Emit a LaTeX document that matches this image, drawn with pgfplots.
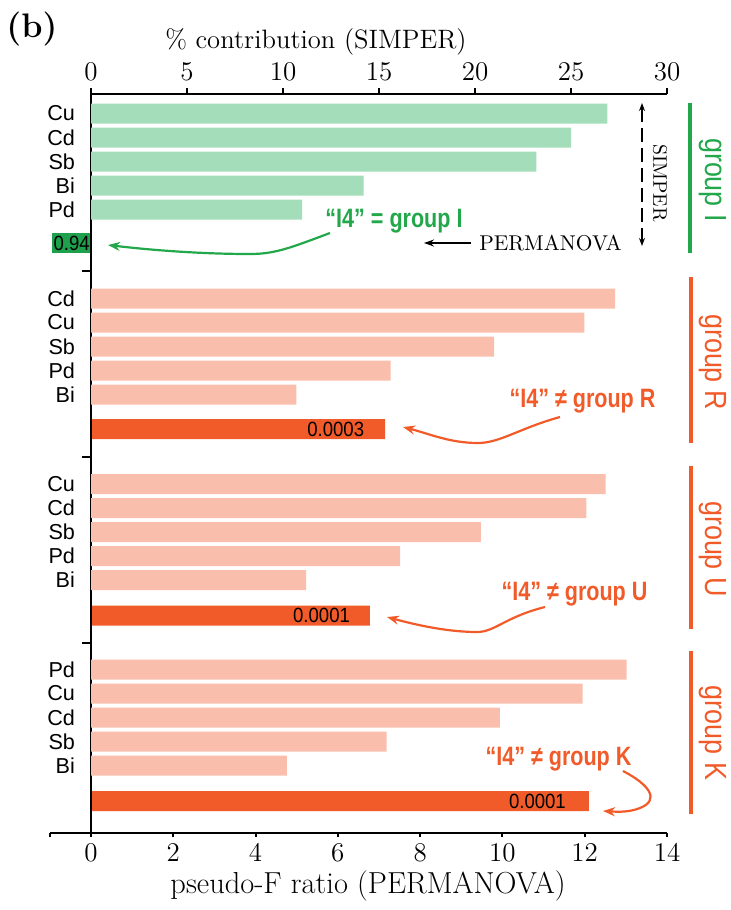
\documentclass[border=0pt]{standalone}
\usepackage{pgfplots}
\pgfplotsset{compat=1.18}
\usepackage{pgfplotstable}
\usepackage{fontspec}
\newfontfamily\arialf{Liberation Sans}
\newfontfamily\condf[FakeStretch=0.88]{Liberation Sans}
\newfontfamily\anf[FakeStretch=0.81]{Liberation Sans}
\newfontfamily\numf[FakeStretch=0.9]{Liberation Sans}
\usetikzlibrary{arrows.meta}
\definecolor{lgreen}{HTML}{A3DDBA}
\definecolor{dgreen}{HTML}{1EA04C}
\definecolor{tgreen}{HTML}{22A84A}
\definecolor{lsalmon}{HTML}{F9BEAC}
\definecolor{dorange}{HTML}{F15A29}

\pgfplotstableread{
pos val
113.5 26.9
137.5 25.0
161.5 23.2
185.5 14.2
209.5 11.0
}\simperI
\pgfplotstableread{
pos val
298.5 27.3
322.5 25.7
346.5 21.0
370.5 15.6
394.5 10.7
484 26.8
508 25.8
532 20.3
556 16.1
580 11.2
669.5 27.9
693.5 25.6
717.5 21.3
741.5 15.4
765.5 10.2
}\simperO
\pgfplotstableread{
pos val
243 -0.94
}\permI
\pgfplotstableread{
pos val
429 7.15
615.5 6.78
801 12.1
}\permO

\begin{document}
\begin{tikzpicture}
\path[use as bounding box] (0,0) rectangle (365.5pt,-455pt);
% bottom axis: pseudo-F
\begin{axis}[
  scale only axis, width=308.571pt, height=369.5pt,
  at={(24.9286pt,-416.5pt)}, anchor=south west,
  xmin=-1, xmax=14, ymin=94, ymax=833, y dir=reverse,
  axis x line*=bottom, axis y line=none,
  axis line style={-, line width=1pt},
  xtick={-1,0,2,4,6,8,10,12,14}, xticklabels={,0,2,4,6,8,10,12,14},
  ytick=\empty,
  tick align=outside, major tick length=2pt,
  tick style={line width=1pt, black},
  /pgf/number format/assume math mode=true,
  xticklabel style={font=\fontsize{13.5}{15}\selectfont, inner sep=2pt, yshift=-1pt},
  xlabel={pseudo-F ratio (PERMANOVA)},
  xlabel style={font=\fontsize{15.2}{18}\selectfont, inner sep=1pt, at={(axis description cs:0.5156,0)}, anchor=center, yshift=-26.5pt},
  clip=false,
]
\addplot[xbar, bar width=20, bar shift=0pt, fill=dgreen, draw=none] table[x=val,y=pos]{\permI};
\addplot[xbar, bar width=20, bar shift=0pt, fill=dorange, draw=none] table[x=val,y=pos]{\permO};
\node[font=\numf\fontsize{10.3}{12}\selectfont, anchor=center] at (axis cs:-0.47,243) {0.94};
\node[font=\numf\fontsize{10.3}{12}\selectfont, anchor=east, xshift=-7pt] at (axis cs:7.15,429) {0.0003};
\node[font=\numf\fontsize{10.3}{12}\selectfont, anchor=east, xshift=-6.5pt] at (axis cs:6.78,615.5) {0.0001};
\node[font=\numf\fontsize{10.3}{12}\selectfont, anchor=east, xshift=-8pt] at (axis cs:12.1,801) {0.0001};
\end{axis}
% top axis: SIMPER
\begin{axis}[
  scale only axis, width=288pt, height=369.5pt,
  at={(45.5pt,-416.5pt)}, anchor=south west,
  xmin=0, xmax=30, ymin=94, ymax=833, y dir=reverse,
  axis x line*=top, axis y line*=left,
  axis line style={-, line width=1pt},
  xtick={0,5,...,30},
  tick align=outside, major tick length=3pt,
  xtick style={line width=1pt, black},
  ytick style={draw=none},
  /pgf/number format/assume math mode=true,
  xticklabel style={font=\fontsize{13.5}{15}\selectfont},
  ytick={113.5,137.5,161.5,185.5,209.5,298.5,322.5,346.5,370.5,394.5,484,508,532,556,580,669.5,693.5,717.5,741.5,765.5},
  yticklabels={Cu,Cd,Sb,Bi,Pd,Cd,Cu,Sb,Pd,Bi,Cu,Cd,Sb,Pd,Bi,Pd,Cu,Cd,Sb,Bi},
  yticklabel style={font=\arialf\fontsize{10.8}{12}\selectfont, anchor=east, xshift=-1.5pt},
  xlabel={\% contribution (SIMPER)},
  xlabel style={font=\fontsize{13.3}{16}\selectfont, at={(axis description cs:0.3906,1)}, anchor=center, yshift=26pt},
  clip=false,
]
\addplot[xbar, bar width=20, bar shift=0pt, fill=lgreen, draw=none] table[x=val,y=pos]{\simperI};
\addplot[xbar, bar width=20, bar shift=0pt, fill=lsalmon, draw=none] table[x=val,y=pos]{\simperO};
\draw[line width=1pt] (axis cs:0,271) -- ([xshift=-4.5pt]axis cs:0,271);
\draw[line width=1pt] (axis cs:0,457) -- ([xshift=-4.5pt]axis cs:0,457);
\draw[line width=1pt] (axis cs:0,643) -- ([xshift=-4.5pt]axis cs:0,643);
\end{axis}
\begin{scope}[x=0.5pt,y=-0.5pt]
\node[font=\bfseries\fontsize{17}{20}\selectfont] at (32,29) {(b)};
% group bars and labels
\draw[tgreen, line width=2.4pt] (690,103)--(690,253);
\node[rotate=-90, text=tgreen, font=\condf\fontsize{15.3}{18}\selectfont] at (712.5,180) {group I};
\draw[dorange, line width=2.4pt] (691,277)--(691,443);
\node[rotate=-90, text=dorange, font=\condf\fontsize{15.3}{18}\selectfont] at (712.5,362) {group R};
\draw[dorange, line width=2.4pt] (691,466)--(691,629);
\node[rotate=-90, text=dorange, font=\condf\fontsize{15.3}{18}\selectfont] at (712.5,549) {group U};
\draw[dorange, line width=2.4pt] (691,651)--(691,814);
\node[rotate=-90, text=dorange, font=\condf\fontsize{15.3}{18}\selectfont] at (712.5,733) {group K};
% SIMPER / PERMANOVA legend
\draw[{Stealth[length=4pt,width=3pt]}-{Stealth[length=4pt,width=3pt]}, line width=0.7pt, dash pattern=on 7pt off 3pt] (642,103)--(642,246);
\node[rotate=-90, font=\fontsize{9.8}{11}\selectfont] at (660,183) {SIMPER};
\node[font=\fontsize{10.7}{12}\selectfont] at (550.5,243) {PERMANOVA};
\draw[-{Stealth[length=5pt,width=3.5pt]}, line width=0.7pt] (471,243)--(424,243);
% annotations
\node[anchor=base, text=tgreen, font=\anf\bfseries\fontsize{13.3}{15}\selectfont] at (394,227) {“I4” = group I};
\draw[tgreen, line width=1.1pt, -{Stealth[length=6pt,width=4.5pt]}] (330,233) .. controls (290,248) and (275,254) .. (250,254) .. controls (200,254) and (150,250) .. (108,245);
\node[anchor=base, text=dorange, font=\anf\bfseries\fontsize{13.3}{15}\selectfont] at (582.5,407) {“I4” ≠ group R};
\draw[dorange, line width=1.1pt, -{Stealth[length=6pt,width=4.5pt]}] (560,417) .. controls (520,428) and (500,443) .. (478,443) .. controls (450,443) and (430,434) .. (403,427);
\node[anchor=base, text=dorange, font=\anf\bfseries\fontsize{13.3}{15}\selectfont] at (574.5,600) {“I4” ≠ group U};
\draw[dorange, line width=1.1pt, -{Stealth[length=6pt,width=4.5pt]}] (545,607) .. controls (505,617) and (495,632) .. (477,632) .. controls (450,632) and (420,626) .. (387,617);
\node[anchor=base, text=dorange, font=\anf\bfseries\fontsize{13.3}{15}\selectfont] at (558.5,765) {“I4” ≠ group K};
\draw[dorange, line width=1.1pt, -{Stealth[length=6pt,width=4.5pt]}] (623,771) .. controls (650,785) and (660,800) .. (640,808) .. controls (630,812) and (620,812) .. (603,811);
\end{scope}
\end{tikzpicture}
\end{document}
